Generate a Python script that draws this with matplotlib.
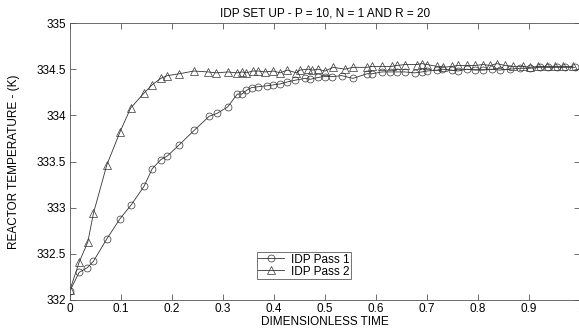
import matplotlib
matplotlib.use("Agg")
import matplotlib.pyplot as plt

plt.rcParams['font.family'] = ['Liberation Sans', 'DejaVu Sans']

# ------ данные ------
t_pass1 = [0.0, 0.018, 0.034, 0.046, 0.072, 0.098, 0.120, 0.145, 0.161, 0.178,
           0.191, 0.214, 0.244, 0.273, 0.288, 0.309, 0.328, 0.337, 0.346, 0.356,
           0.369, 0.386, 0.399, 0.412, 0.425, 0.441,
           0.461, 0.471, 0.486, 0.500, 0.514, 0.533, 0.555, 0.582, 0.592, 0.612,
           0.627, 0.641, 0.657, 0.676, 0.690, 0.700, 0.720,
           0.729, 0.749, 0.761, 0.778, 0.794, 0.810, 0.827, 0.843, 0.863, 0.882,
           0.902, 0.922, 0.937, 0.955, 0.971, 0.990]
temp_pass1 = [332.10, 332.30, 332.35, 332.42, 332.66, 332.88, 333.03, 333.23, 333.42, 333.52,
              333.56, 333.68, 333.84, 333.99, 334.02, 334.09, 334.23, 334.23, 334.27, 334.30,
              334.31, 334.32, 334.33, 334.34, 334.36, 334.38,
              334.40, 334.39, 334.41, 334.42, 334.42, 334.43, 334.40, 334.45, 334.45, 334.47,
              334.47, 334.47, 334.47, 334.46, 334.47, 334.48, 334.49,
              334.50, 334.49, 334.48, 334.50, 334.49, 334.49, 334.50, 334.49, 334.50, 334.51,
              334.51, 334.52, 334.52, 334.52, 334.52, 334.52]

t_pass2 = [0.0, 0.018, 0.035, 0.046, 0.072, 0.098, 0.119, 0.145, 0.161, 0.178,
           0.191, 0.214, 0.243, 0.271, 0.286, 0.310, 0.327, 0.337, 0.346, 0.358,
           0.369, 0.383, 0.399, 0.412, 0.426, 0.444,
           0.451, 0.467, 0.475, 0.486, 0.500, 0.516, 0.539, 0.555, 0.582, 0.592,
           0.612, 0.631, 0.641, 0.657, 0.680, 0.690, 0.700, 0.720,
           0.731, 0.749, 0.761, 0.778, 0.794, 0.810, 0.824, 0.837, 0.853, 0.869,
           0.888, 0.902, 0.918, 0.935, 0.951, 0.967, 0.986]
temp_pass2 = [332.11, 332.41, 332.63, 332.94, 333.46, 333.82, 334.08, 334.24, 334.33, 334.40,
              334.43, 334.45, 334.48, 334.47, 334.46, 334.47, 334.46, 334.47, 334.46, 334.48,
              334.48, 334.47, 334.48, 334.46, 334.49, 334.46,
              334.49, 334.50, 334.49, 334.50, 334.48, 334.52, 334.50, 334.52, 334.52, 334.53,
              334.53, 334.53, 334.54, 334.55, 334.55, 334.56, 334.55, 334.53,
              334.52, 334.53, 334.54, 334.54, 334.54, 334.55, 334.54, 334.56, 334.54, 334.53,
              334.53, 334.52, 334.53, 334.53, 334.53, 334.53, 334.53]

x_ticks = [0, 0.1, 0.2, 0.3, 0.4, 0.5, 0.6, 0.7, 0.8, 0.9, 1]
x_tick_labels = ['0', '0.1', '0.2', '0.3', '0.4', '0.5', '0.6', '0.7', '0.8', '0.9', '1']
y_ticks = [332, 332.5, 333, 333.5, 334, 334.5, 335]
y_tick_labels = ['332', '332.5', '333', '333.5', '334', '334.5', '335']
# --------------------

fig = plt.figure(figsize=(5.79, 3.29), dpi=100)
ax = fig.add_axes([70 / 579, 29 / 329, 510 / 579, 277 / 329])

fs = 8.5
line_col = '#333333'
ax.plot(t_pass1, temp_pass1, color=line_col, lw=0.6, marker='o', ms=5,
        mfc='none', mec=line_col, mew=0.5, label='IDP Pass 1')
ax.plot(t_pass2, temp_pass2, color=line_col, lw=0.6, marker='^', ms=5.5,
        mfc='none', mec=line_col, mew=0.5, label='IDP Pass 2')

ax.set_xlim(0, 1)
ax.set_ylim(332, 335)
ax.set_xticks(x_ticks, x_tick_labels)
ax.set_yticks(y_ticks, y_tick_labels)
ax.tick_params(direction='in', top=True, right=True, length=4, width=0.6,
               labelsize=fs, color='#555555', pad=3)
ax.tick_params(axis='x', pad=2)
for s in ax.spines.values():
    s.set_linewidth(0.6)
    s.set_color('#555555')

ax.set_title("IDP SET UP - P = 10, N = 1 AND R = 20", fontsize=fs, pad=5)
ax.set_xlabel("DIMENSIONLESS TIME", fontsize=fs, labelpad=1)
ax.set_ylabel("REACTOR TEMPERATURE - (K)", fontsize=fs, labelpad=12)

leg = ax.legend(loc='upper left', bbox_to_anchor=(0.367, 0.172), fontsize=fs,
                frameon=True, fancybox=False, edgecolor='#333333',
                borderpad=0.1, labelspacing=0.0, handlelength=2.2,
                handletextpad=0.6, borderaxespad=0)
leg.get_frame().set_linewidth(0.6)

plt.savefig('out.png', dpi=100)
